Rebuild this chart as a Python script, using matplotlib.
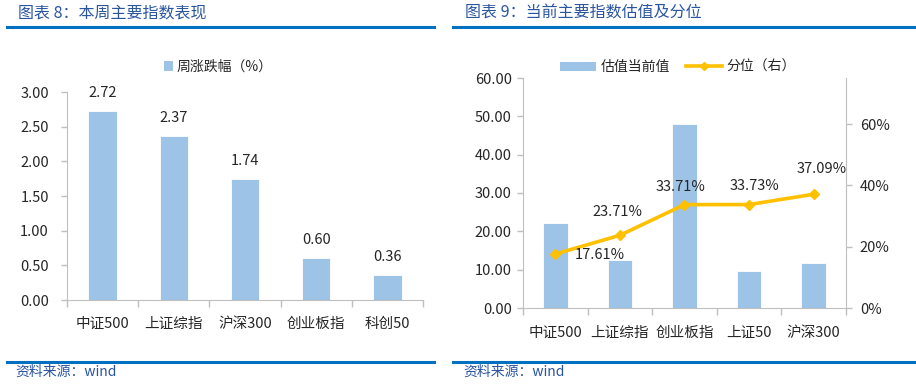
import matplotlib
matplotlib.use("Agg")
import matplotlib.pyplot as plt
from matplotlib.lines import Line2D
from matplotlib.patches import Patch
from matplotlib.ticker import FuncFormatter, FixedLocator

plt.rcParams['font.family'] = ['Noto Sans CJK SC', 'DejaVu Sans']

# ---- data ----
left_cats = ["中证500", "上证综指", "沪深300", "创业板指", "科创50"]
left_vals = [2.72, 2.37, 1.74, 0.60, 0.36]
left_series = "周涨跌幅（%）"

right_cats = ["中证500", "上证综指", "创业板指", "上证50", "沪深300"]
right_vals = [22.3, 12.5, 47.9, 9.7, 11.8]
right_pct = [0.1761, 0.2371, 0.3371, 0.3373, 0.3709]
right_bar_name = "估值当前值"
right_line_name = "分位（右）"

title_left = "图表 8：本周主要指数表现"
title_right = "图表 9：当前主要指数估值及分位"
source = "资料来源：wind"

BAR = "#9DC3E6"
LINE = "#FFC000"
AXC = "#BFBFBF"
TXT = "#262626"
BLUE = "#0070C0"
TBLUE = "#2A55A0"

W, H = 916, 388
fig = plt.figure(figsize=(W / 100, H / 100), dpi=100)

def fx(px):
    return px / W

def fy(py):
    return 1 - py / H

# header / footer decorations
for x0, x1 in [(7, 434), (453, 914)]:
    fig.add_artist(Line2D([fx(x0), fx(x1)], [fy(27), fy(27)], color=BLUE, lw=2.2))
    fig.add_artist(Line2D([fx(x0), fx(x1)], [fy(362), fy(362)], color=BLUE, lw=2.2))
fig.text(fx(18), fy(13), title_left, color=TBLUE, fontsize=11.5, va='center', ha='left', style='italic')
fig.text(fx(465), fy(13), title_right, color=TBLUE, fontsize=11.5, va='center', ha='left', style='italic')
fig.text(fx(15), fy(372), source, color=TBLUE, fontsize=10, va='center', ha='left', style='italic')
fig.text(fx(463), fy(372), source, color=TBLUE, fontsize=10, va='center', ha='left', style='italic')

def style_axes(ax, ypad, xpad):
    for s in ['top', 'right']:
        ax.spines[s].set_visible(False)
    ax.spines['left'].set_color(AXC)
    ax.spines['bottom'].set_color(AXC)
    ax.tick_params(axis='y', colors=AXC, labelcolor=TXT, labelsize=10.5, length=4, width=1,
                   direction='out', pad=ypad)
    ax.tick_params(axis='x', which='major', length=0, labelcolor=TXT, labelsize=10.5, pad=xpad)
    ax.tick_params(axis='x', which='minor', colors=AXC, length=5, width=1, direction='out')

# ---- left chart ----
axL = fig.add_axes([fx(67), fy(300), fx(423) - fx(67), fy(92) - fy(300)])
xl = list(range(len(left_cats)))
axL.bar(xl, left_vals, width=0.4, color=BAR, edgecolor='white', linewidth=0.6)
axL.set_xlim(-0.5, len(left_cats) - 0.5)
axL.set_ylim(0, 3.0)
axL.set_yticks([0, 0.5, 1.0, 1.5, 2.0, 2.5, 3.0])
axL.yaxis.set_major_formatter(FuncFormatter(lambda v, p: f"{v:.2f}"))
axL.set_xticks(xl)
axL.set_xticklabels(left_cats)
axL.xaxis.set_minor_locator(FixedLocator([i - 0.5 for i in range(len(left_cats) + 1)]))
style_axes(axL, ypad=9, xpad=12)
for x, v in zip(xl, left_vals):
    axL.annotate(f"{v:.2f}", (x, v), xytext=(0, 8), textcoords='offset points',
                 ha='center', va='bottom', fontsize=10.5, color=TXT)
fig.legend(handles=[Patch(facecolor=BAR, edgecolor='none')], labels=[left_series],
           loc='center', bbox_to_anchor=(fx(218), fy(67)), frameon=False,
           fontsize=10, handlelength=0.7, handleheight=0.7, handletextpad=0.2,
           labelcolor=TXT)

# ---- right chart ----
axR = fig.add_axes([fx(523), fy(308), fx(846) - fx(523), fy(78) - fy(308)])
xr = list(range(len(right_cats)))
axR.bar(xr, right_vals, width=0.38, color=BAR, edgecolor='white', linewidth=0.6)
axR.set_xlim(-0.5, len(right_cats) - 0.5)
axR.set_ylim(0, 60)
axR.set_yticks([0, 10, 20, 30, 40, 50, 60])
axR.yaxis.set_major_formatter(FuncFormatter(lambda v, p: f"{v:.2f}"))
axR.set_xticks(xr)
axR.set_xticklabels(right_cats)
axR.xaxis.set_minor_locator(FixedLocator([i - 0.5 for i in range(len(right_cats) + 1)]))
style_axes(axR, ypad=4, xpad=13)

ax2 = axR.twinx()
ax2.plot(xr, right_pct, color=LINE, lw=2.6, marker='D', markersize=5.5,
         markerfacecolor=LINE, markeredgecolor=LINE)
ax2.set_ylim(0, 0.75)
ax2.set_yticks([0, 0.2, 0.4, 0.6])
ax2.yaxis.set_major_formatter(FuncFormatter(lambda v, p: f"{v*100:.0f}%"))
for s in ['top', 'left', 'bottom']:
    ax2.spines[s].set_visible(False)
ax2.spines['right'].set_color(AXC)
ax2.tick_params(axis='y', colors=AXC, labelcolor=TXT, labelsize=10.5, length=4, width=1, direction='out', pad=6)

offsets = [(32, -1, 'center'), (-2, 12, 'bottom'), (-3, 8, 'bottom'), (4, 8, 'bottom'), (6, 13, 'bottom')]
for x, v, (dx, dy, va) in zip(xr, right_pct, offsets):
    ax2.annotate(f"{v*100:.2f}%", (x, v), xytext=(dx, dy), textcoords='offset points',
                 ha='center', va=va, fontsize=10.5, color=TXT)

fig.legend(handles=[Patch(facecolor=BAR, edgecolor='none'),
                    Line2D([0], [0], color=LINE, lw=2.6, marker='D', markersize=4)],
           labels=[right_bar_name, right_line_name],
           loc='center', bbox_to_anchor=(fx(678), fy(67)), frameon=False, ncol=2,
           fontsize=10, handlelength=2.6, handleheight=0.6, handletextpad=0.3,
           columnspacing=1.2, labelcolor=TXT)

fig.savefig("out.png", dpi=100)
